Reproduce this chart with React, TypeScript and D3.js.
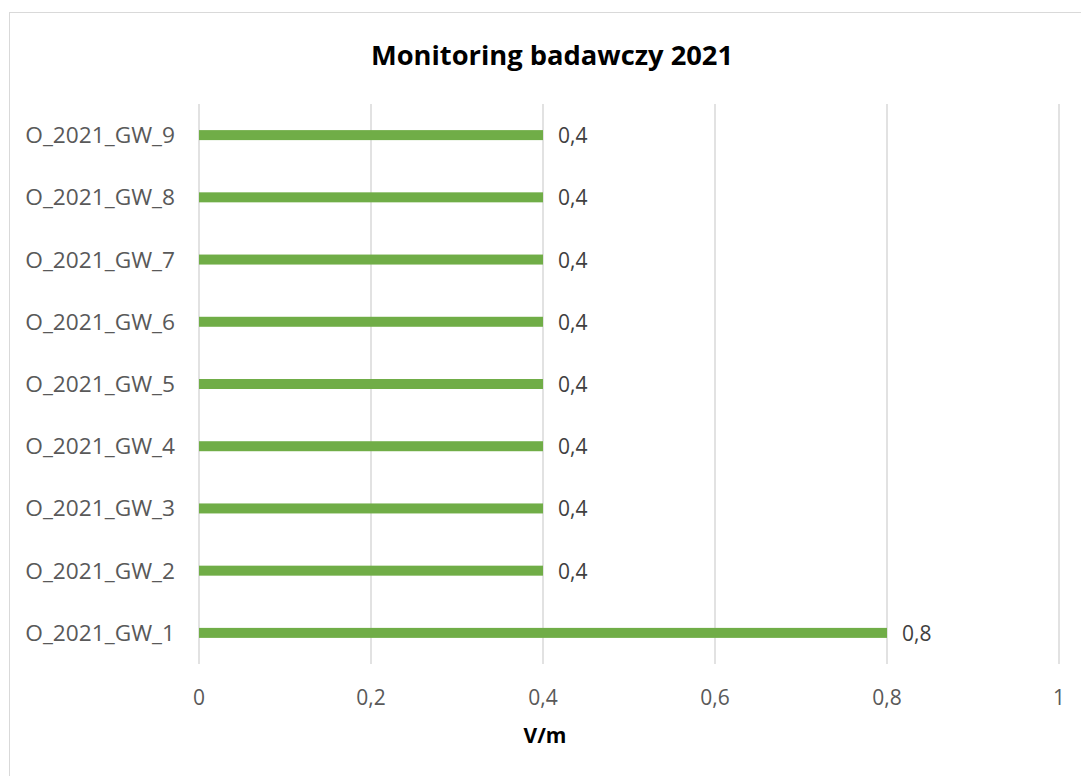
import React from "react";
import * as d3 from "d3";

const categories = ["O_2021_GW_1","O_2021_GW_2","O_2021_GW_3","O_2021_GW_4","O_2021_GW_5","O_2021_GW_6","O_2021_GW_7","O_2021_GW_8","O_2021_GW_9"];
const values = [0.8,0.4,0.4,0.4,0.4,0.4,0.4,0.4,0.4];
const xTicks = [0,0.2,0.4,0.6,0.8,1];
const title = "Monitoring badawczy 2021";
const xTitle = "V/m";

const W = 1081, H = 776;
const left = 199, right = 1059, top = 104, bottom = 664;
const font = "'Open Sans', 'Liberation Sans', sans-serif";
const fmt = (v: number) => String(v).replace(".", ",");

export default function App() {
  const x = d3.scaleLinear().domain([0, 1]).range([left, right]);
  const y = d3.scaleBand().domain([...categories].reverse()).range([top, bottom]);
  return (
    <svg width={W} height={H} style={{ position: "absolute", left: 0, top: 0, background: "#fff" }}>
      <rect x={9.5} y={12.5} width={1100} height={800} fill="#fff" stroke="#d9d9d9" strokeWidth={1} />
      <text x={552} y={65} textAnchor="middle" fontFamily={font} fontWeight="bold" fontSize={27.3} fill="#000">{title}</text>
      {xTicks.map((t) => (
        <g key={t}>
          <line x1={x(t)} x2={x(t)} y1={top} y2={bottom} stroke="#d9d9d9" strokeWidth={1.5} />
          <text x={x(t)} y={705} textAnchor="middle" fontFamily={font} fontSize={21} fill="#595959">{fmt(t)}</text>
        </g>
      ))}
      {categories.map((c, i) => {
        const cy = (y(c) as number) + y.bandwidth() / 2;
        return (
          <g key={c}>
            <rect x={x(0)} y={cy - 5} width={x(values[i]) - x(0)} height={10} fill="#70ad47" />
            <text x={175} y={cy + 8} textAnchor="end" fontFamily={font} fontSize={22.7} fill="#595959">{c}</text>
            <text x={x(values[i]) + 15} y={cy + 8} fontFamily={font} fontSize={21} fill="#404040">{fmt(values[i])}</text>
          </g>
        );
      })}
      <text x={545} y={743} textAnchor="middle" fontFamily={font} fontWeight="bold" fontSize={21} fill="#000">{xTitle}</text>
    </svg>
  );
}
